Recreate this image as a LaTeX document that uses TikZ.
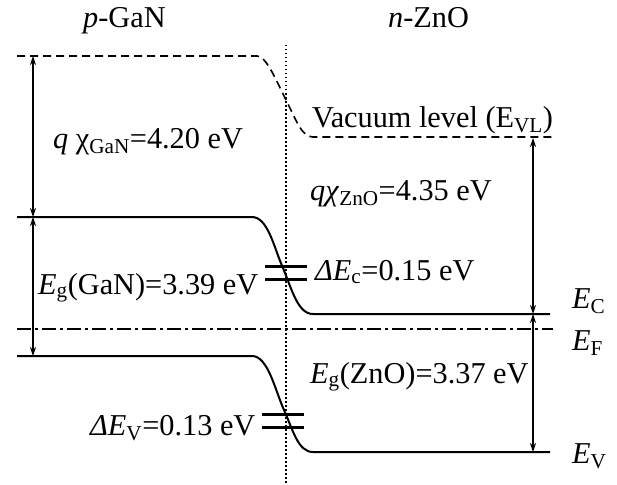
\documentclass[tikz,border=0pt]{standalone}
\usepackage{fontspec}
\setmainfont{Liberation Serif}
\usetikzlibrary{arrows.meta}
\newcommand{\sbs}[1]{\textsubscript{#1}}
\begin{document}
\begin{tikzpicture}[x=1pt,y=-1pt,
  lbl/.style={anchor=base west,inner sep=0pt,font=\fontsize{30.3}{35}\selectfont},
  band/.style={line width=2pt},
  vac/.style={line width=1.6pt,dash pattern=on 8pt off 5pt},
  fermi/.style={line width=1.6pt,dash pattern=on 14pt off 4pt on 3pt off 4pt},
  iface/.style={line width=1.6pt,dash pattern=on 1.5pt off 2.5pt},
  dimarrow/.style={line width=1.1pt,{Stealth[length=9pt,width=6pt]}-{Stealth[length=9pt,width=6pt]}},
  offs/.style={line width=3pt}]
\useasboundingbox (0,0) rectangle (617,484);
% coordinates
\coordinate (vl1) at (17,56);
\coordinate (vl2) at (257,56);
\coordinate (vlm) at (286,100);
\coordinate (vl3) at (313,137);
\coordinate (vl4) at (552,137);
\coordinate (ec1) at (17,217);
\coordinate (ec2) at (252,217);
\coordinate (ecm) at (283,268);
\coordinate (ec3) at (313,314);
\coordinate (ec4) at (550,314);
\coordinate (ev1) at (17,356);
\coordinate (ev2) at (252,356);
\coordinate (evm) at (284,410);
\coordinate (ev3) at (313,452);
\coordinate (ev4) at (550,452);
\coordinate (ef1) at (17,329);
\coordinate (ef2) at (553,329);
\coordinate (if1) at (286,45);
\coordinate (if2) at (286,484);
\coordinate (a1) at (33,56);
\coordinate (a2) at (33,217);
\coordinate (a3) at (33,356);
\coordinate (b1) at (533,138);
\coordinate (b2) at (533,314);
\coordinate (b3) at (533,452);
\coordinate (c1l) at (265,266); \coordinate (c1r) at (307,266);
\coordinate (c2l) at (265,279); \coordinate (c2r) at (307,279);
\coordinate (v1l) at (262,414); \coordinate (v1r) at (304,414);
\coordinate (v2l) at (262,427); \coordinate (v2r) at (304,427);
% interface
\draw[iface] (if1) -- (if2);
% vacuum level
\draw[vac] (vl1) -- (vl2) .. controls (266,56) and (275,78) .. (vlm)
  .. controls (297,122) and (302,137) .. (vl3) -- (vl4);
% conduction band
\draw[band] (ec1) -- (ec2) .. controls (268,217) and (274,248) .. (ecm)
  .. controls (292,290) and (298,314) .. (ec3) -- (ec4);
% valence band
\draw[band] (ev1) -- (ev2) .. controls (268,356) and (275,390) .. (evm)
  .. controls (293,430) and (298,452) .. (ev3) -- (ev4);
% Fermi level
\draw[fermi] (ef1) -- (ef2);
% offsets
\draw[offs] (c1l) -- (c1r);
\draw[offs] (c2l) -- (c2r);
\draw[offs] (v1l) -- (v1r);
\draw[offs] (v2l) -- (v2r);
% dimension arrows
\draw[dimarrow] (a1) -- (a2);
\draw[dimarrow] (a2) -- (a3);
\draw[dimarrow] (b1) -- (b2);
\draw[dimarrow] (b2) -- (b3);
% labels
\node[lbl] (tp) at (83,28) {\textit{p}-GaN};
\node[lbl] (tn) at (388,28) {\textit{n}-ZnO};
\node[lbl] (chig) at (53,148) {\textit{q} χ\sbs{GaN}=4.20 eV};
\node[lbl] (vac) at (312,127) {Vacuum level (E\sbs{VL})};
\node[lbl] (chiz) at (310,200) {\textit{qχ}\sbs{ZnO}=4.35 eV};
\node[lbl] (dec) at (315,280) {\textit{ΔE}\sbs{c}=0.15 eV};
\node[lbl] (egg) at (38,294) {\textit{E}\sbs{g}(GaN)=3.39 eV};
\node[lbl] (ecl) at (572,308) {\textit{E}\sbs{C}};
\node[lbl] (efl) at (572,350) {\textit{E}\sbs{F}};
\node[lbl] (egz) at (310,383) {\textit{E}\sbs{g}(ZnO)=3.37 eV};
\node[lbl] (dev) at (90,435) {\textit{ΔE}\sbs{V}=0.13 eV};
\node[lbl] (evl) at (572,463) {\textit{E}\sbs{V}};
\end{tikzpicture}
\end{document}
